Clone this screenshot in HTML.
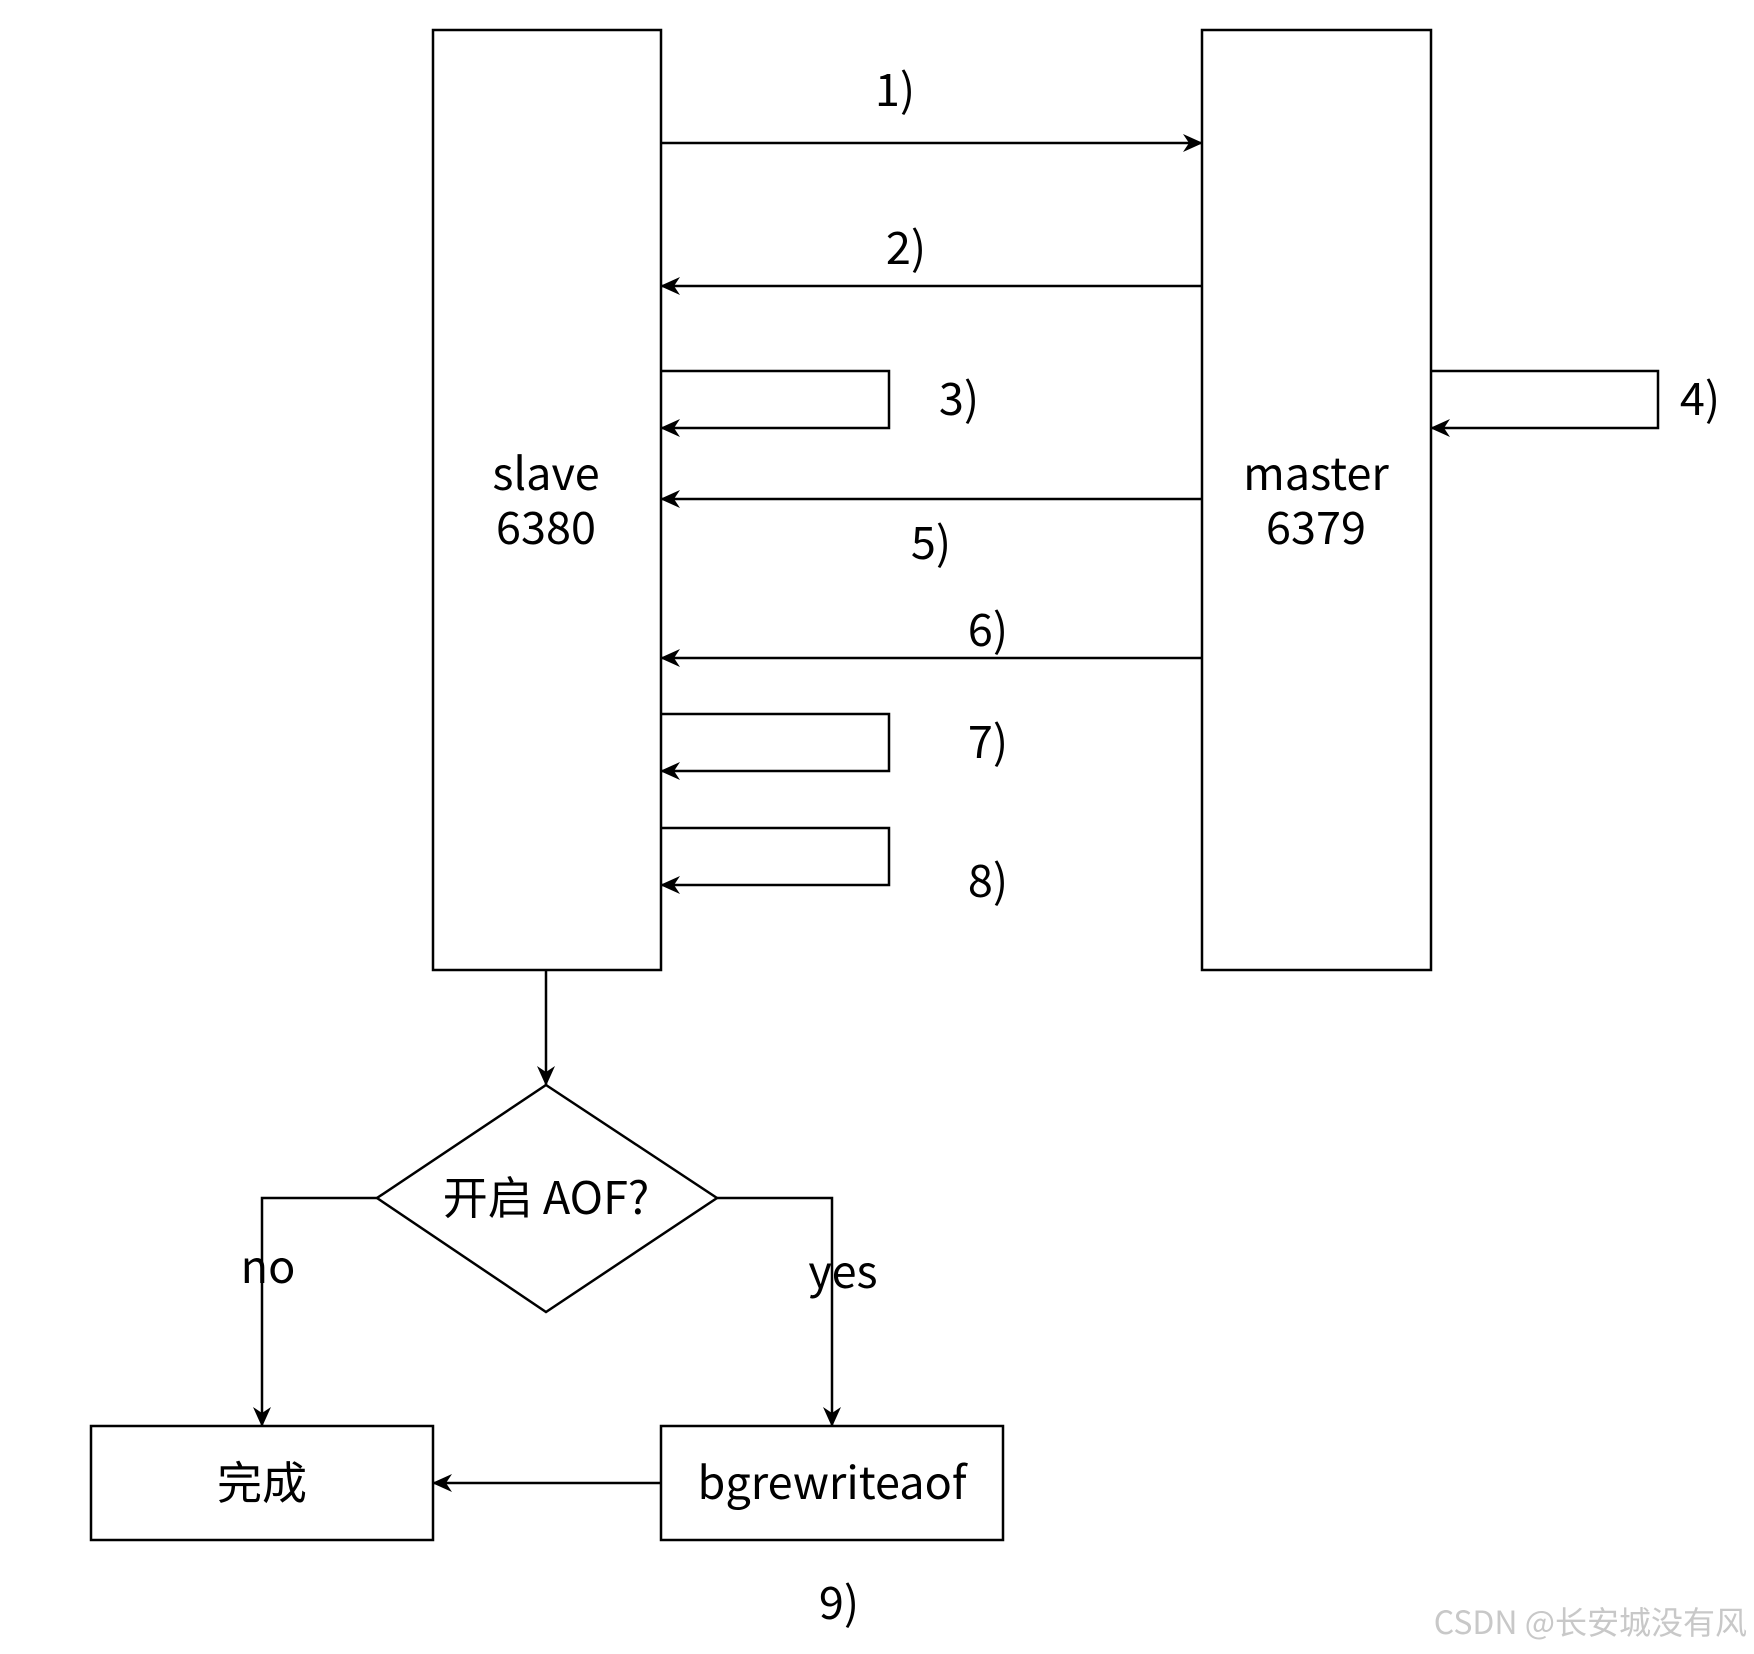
<!DOCTYPE html>
<html><head><meta charset="utf-8"><style>
html,body{margin:0;padding:0;background:#fff}
svg{display:block}
text{font-family:"Noto Sans CJK SC","Liberation Sans",sans-serif;fill:#000}
</style></head><body>
<svg width="1754" height="1654" viewBox="0 0 1754 1654" xmlns="http://www.w3.org/2000/svg">
<defs>
<marker id="a" viewBox="0 0 20 20" refX="19" refY="10" markerWidth="20" markerHeight="20" markerUnits="userSpaceOnUse" orient="auto">
<path d="M0,1 L20,10 L0,19 L6,10 Z" fill="#000"/>
</marker>
</defs>
<g fill="none" stroke="#000" stroke-width="2.5">
<rect x="433" y="30" width="228" height="940"/>
<rect x="1202" y="30" width="229" height="940"/>
<path d="M661,143 H1202" marker-end="url(#a)"/>
<path d="M1202,286 H661" marker-end="url(#a)"/>
<path d="M661,371 H889 V428 H661" marker-end="url(#a)"/>
<path d="M1431,371 H1658 V428 H1431" marker-end="url(#a)"/>
<path d="M1202,499 H661" marker-end="url(#a)"/>
<path d="M1202,658 H661" marker-end="url(#a)"/>
<path d="M661,714 H889 V771 H661" marker-end="url(#a)"/>
<path d="M661,828 H889 V885 H661" marker-end="url(#a)"/>
<path d="M546,970 V1085" marker-end="url(#a)"/>
<path d="M546,1085 L717,1198 L546,1312 L377,1198 Z"/>
<path d="M377,1198 H262 V1426" marker-end="url(#a)"/>
<path d="M717,1198 H832 V1426" marker-end="url(#a)"/>
<rect x="91" y="1426" width="342" height="114"/>
<rect x="661" y="1426" width="342" height="114"/>
<path d="M661,1483 H433" marker-end="url(#a)"/>
</g>
<g font-size="45" text-anchor="middle">
<text x="546" y="490">slave</text>
<text x="546" y="544">6380</text>
<text x="1316" y="490">master</text>
<text x="1316" y="544">6379</text>
<text x="895" y="106">1)</text>
<text x="906" y="264">2)</text>
<text x="959" y="415">3)</text>
<text x="1700" y="415">4)</text>
<text x="931" y="559">5)</text>
<text x="988" y="646">6)</text>
<text x="988" y="758">7)</text>
<text x="988" y="897">8)</text>
<text x="546" y="1214">开启 AOF?</text>
<text x="268" y="1283">no</text>
<text x="843" y="1288">yes</text>
<text x="262" y="1499">完成</text>
<text x="832" y="1499">bgrewriteaof</text>
<text x="839" y="1619">9)</text>
</g>
<text x="1747" y="1634" font-size="32" text-anchor="end" style="fill:#c8c8c8">CSDN @长安城没有风</text>
</svg>
</body></html>
